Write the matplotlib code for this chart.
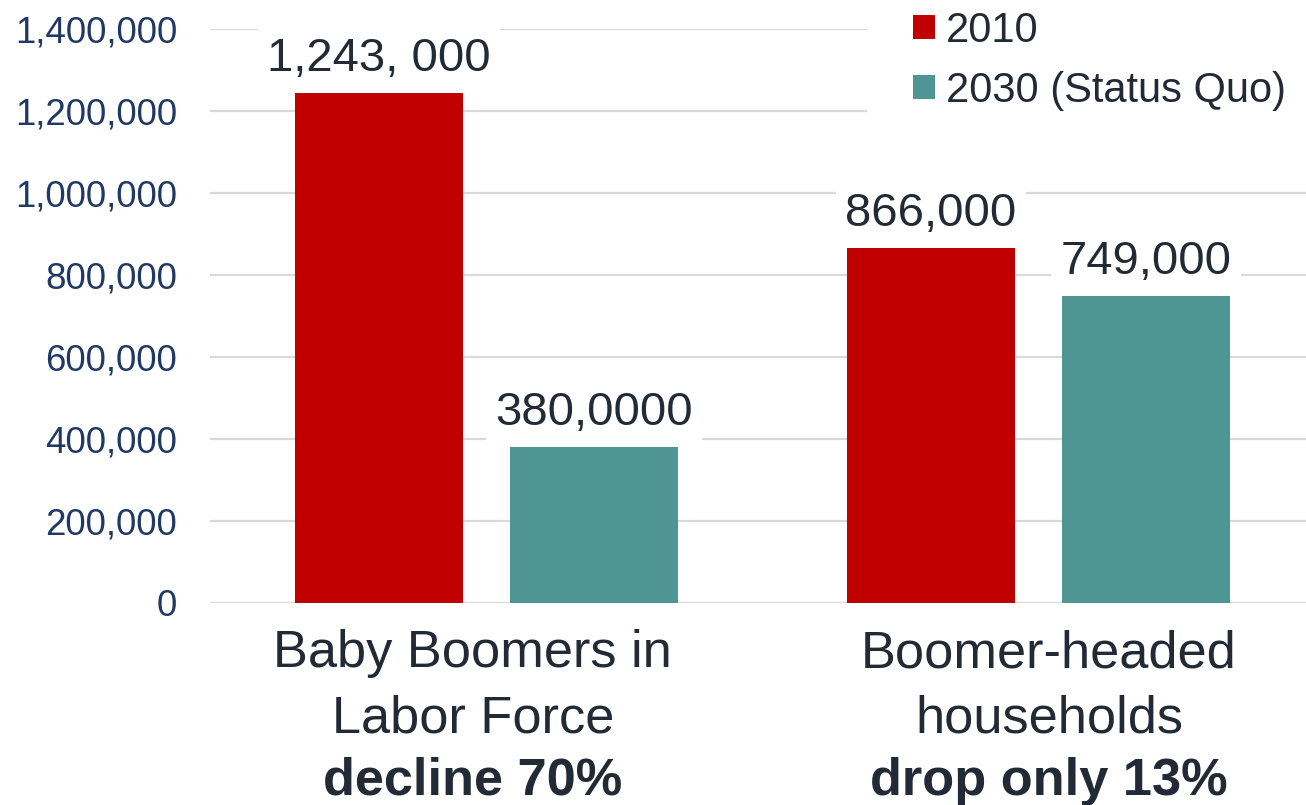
import matplotlib
matplotlib.use("Agg")
import matplotlib.pyplot as plt
from matplotlib.patches import Patch
import numpy as np

# ---- data ----
categories = ["Baby Boomers in\nLabor Force", "Boomer-headed\nhouseholds"]
category_notes = ["decline 70%", "drop only 13%"]
series_names = ["2010", "2030 (Status Quo)"]
values_2010 = [1243000, 866000]
values_2030 = [380000, 749000]
labels_2010 = ["1,243, 000", "866,000"]
labels_2030 = ["380,0000", "749,000"]
yticks = [0, 200000, 400000, 600000, 800000, 1000000, 1200000, 1400000]

# ---- style ----
plt.rcParams['font.family'] = ['Liberation Sans', 'DejaVu Sans']
RED = '#C00000'
TEAL = '#4F9593'
TXT = '#222A35'
TICK = '#203864'
GRID = '#D9D9D9'

W, H = 1306, 805
fig = plt.figure(figsize=(W / 100, H / 100), dpi=100)
ax = fig.add_axes([210 / W, 202 / H, (W - 210) / W, (603 - 29) / H])

x = np.arange(len(categories))
bw = 0.304
off = 0.1947
b1 = ax.bar(x - off, values_2010, bw, color=RED, zorder=3, label=series_names[0])
b2 = ax.bar(x + off, values_2030, bw, color=TEAL, zorder=3, label=series_names[1])

ax.set_xlim(-0.5009, 1.4846)
ax.set_ylim(0, 1400000)
ax.set_yticks(yticks)
ax.set_yticklabels([f"{v:,}" for v in yticks])
ax.tick_params(axis='y', length=0, pad=23.6, labelsize=26.4, labelcolor=TICK)
ax.set_xticks([])
for s in ax.spines.values():
    s.set_visible(False)
ax.grid(axis='y', color=GRID, linewidth=1.6, zorder=0)
ax.set_axisbelow(True)

# value labels
for bars, labs in ((b1, labels_2010), (b2, labels_2030)):
    for rect, lab in zip(bars, labs):
        ax.annotate(lab, (rect.get_x() + rect.get_width() / 2, rect.get_height()),
                    xytext=(0, 15.8), textcoords='offset points',
                    ha='center', va='baseline', fontsize=34, color=TXT, zorder=5,
                    bbox=dict(boxstyle='square,pad=0.2', facecolor='white', edgecolor='none'))

# category labels
cat_shift = [-0.025, 0.019]
for i, (cat, note) in enumerate(zip(categories, category_notes)):
    l1, l2 = cat.split("\n")
    for txt, dy, wt in ((l1, -46.1, 'normal'), (l2, -92.9, 'normal'), (note, -138.2, 'bold')):
        ax.annotate(txt, (x[i] + cat_shift[i], 0), xycoords=('data', 'axes fraction'),
                    xytext=(0, dy), textcoords='offset points',
                    ha='center', va='baseline', fontsize=37.7, color=TXT,
                    fontweight=wt, annotation_clip=False)

handles = [Patch(facecolor=RED, edgecolor='none'), Patch(facecolor=TEAL, edgecolor='none')]
leg = ax.legend(handles, series_names, loc='upper left',
                bbox_to_anchor=(867 / W, 1 + 35 / H), bbox_transform=fig.transFigure,
                fontsize=30, frameon=True, facecolor='white', edgecolor='none',
                framealpha=1, fancybox=False, borderpad=1.1, borderaxespad=0,
                handlelength=0.53, handleheight=0.53, handletextpad=0.26,
                labelspacing=0.48, labelcolor=TXT)
leg.set_zorder(6)

fig.savefig("out.png", dpi=100)
